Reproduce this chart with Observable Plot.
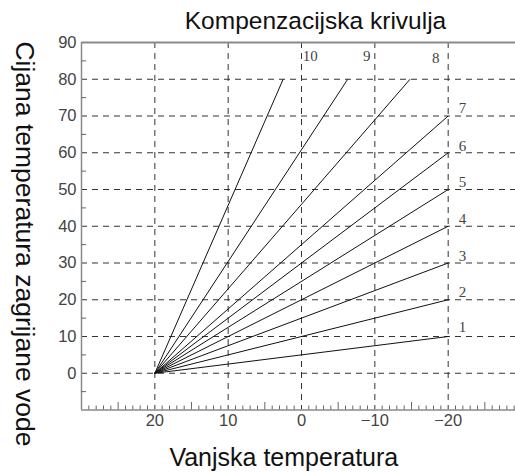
<!DOCTYPE html>
<html>
<head>
<meta charset="utf-8">
<script src="https://cdn.jsdelivr.net/npm/d3@7"></script>
<script src="https://cdn.jsdelivr.net/npm/@observablehq/plot@0.6"></script>
<style>
html, body { margin: 0; padding: 0; background: #fff; overflow: hidden; }
g[aria-label$="tick label"] { font-size: 16.5px !important; }
</style>
</head>
<body>
<div id="chart"></div>
<script>
// ---- data ----
const titleText = "Kompenzacijska krivulja";
const xLabelText = "Vanjska temperatura";
const yLabelText = "Cijana temperatura zagrijane vode";

const curves     = [1, 2, 3, 4, 5, 6, 7, 8, 9, 10];
const startTemp  = 20;   // all curves start at (20, 0)
const startWater = 0;
const endTemp    = [-20, -20, -20, -20, -20, -20, -20, -14.8, -6.3, 2.5];
const endWater   = [10, 20, 30, 40, 50, 60, 70, 80, 80, 80];
const labelTemp  = [-21.95, -21.95, -21.95, -21.95, -21.95, -21.95, -21.95, -18.3, -8.9, -1.2];
const labelWater = [12.6, 22.1, 31.9, 41.9, 51.9, 61.7, 72.0, 85.8, 86.3, 86.4];

const xTicks   = [20, 10, 0, -10, -20];
const yTicks   = [0, 10, 20, 30, 40, 50, 60, 70, 80, 90];
const yGrid    = [0, 10, 20, 30, 40, 50, 60, 70, 80];
const yMinor   = [-5, 5, 15, 25, 35, 45, 55, 65, 75, 85];
const xMid     = [25, 15, 5, -5, -15, -25];
const xMinor   = d3.range(29, -30, -1).filter(v => v % 5 !== 0);

const xDomain = [30, -29.18];
const yDomain = [-10, 90];

// ---- tables ----
const curveRows = curves.map((c, i) => ({
  curve: c, x1: startTemp, y1: startWater, x2: endTemp[i], y2: endWater[i]
}));
const labelRows = curves.map((c, i) => ({ curve: c, x: labelTemp[i], y: labelWater[i] }));

const W = 515, H = 472;
const mL = 81, mR = 0, mT = 42, mB = 62.5;
const frameW = W - mL - mR, frameH = H - mT - mB;

const grid = "#333";
const axisGray = "#8a8a8a";

const chart = Plot.plot({
  width: W,
  height: H,
  marginLeft: mL,
  marginRight: mR,
  marginTop: mT,
  marginBottom: mB,
  style: { fontFamily: "'Liberation Sans', Arial, sans-serif", fontSize: "14px", color: "#333", background: "#fff" },
  x: { domain: xDomain },
  y: { domain: yDomain },
  marks: [
    // dashed grid
    Plot.ruleY(yGrid, { stroke: grid, strokeWidth: 1, strokeDasharray: "6,5" }),
    Plot.ruleX(xTicks, { stroke: grid, strokeWidth: 1, strokeDasharray: "6,5" }),
    // frame lines
    Plot.ruleX([xDomain[0]], { stroke: axisGray, strokeWidth: 1.5 }),
    Plot.ruleY([yDomain[1]], { stroke: axisGray, strokeWidth: 2 }),
    Plot.ruleY([yDomain[0]], { stroke: axisGray, strokeWidth: 1.5 }),
    // minor ticks
    Plot.tickY(yMinor, { stroke: "#666", strokeWidth: 1, insetRight: frameW - 5 }),
    Plot.tickX(xMinor, { stroke: "#666", strokeWidth: 1, insetTop: frameH - 4 }),
    Plot.tickX(xMid, { stroke: "#666", strokeWidth: 1, insetTop: frameH - 7.5 }),
    // curves
    Plot.link(curveRows, { x1: "x1", y1: "y1", x2: "x2", y2: "y2", stroke: "#111", strokeWidth: 1 }),
    // curve labels
    Plot.text(labelRows, {
      x: "x", y: "y", text: d => String(d.curve),
      fontFamily: "'Liberation Serif', 'Times New Roman', serif", fontSize: 15, fill: "#444"
    }),
    // axes
    Plot.axisX(xTicks, { tickSize: 0, tickPadding: 4, label: null, fontSize: 16.5, fill: "#444" }),
    Plot.axisY(yTicks, { tickSize: 0, tickPadding: 5, label: null, fontSize: 16.5, fill: "#444" }),
    // titles
    Plot.text([titleText], { frameAnchor: "top", lineAnchor: "middle", textAnchor: "middle", text: d => d, dx: 17, dy: -21, fontSize: 24.5, fill: "#111" }),
    Plot.text([xLabelText], { frameAnchor: "bottom", lineAnchor: "middle", textAnchor: "middle", text: d => d, dx: -14.7, dy: 47.5, fontSize: 25, fill: "#111" }),
    Plot.text([yLabelText], { frameAnchor: "left", lineAnchor: "middle", textAnchor: "middle", text: d => d, rotate: 90, dx: -57, dy: 17.75, fontSize: 26.5, fill: "#111" })
  ]
});

document.getElementById("chart").appendChild(chart);
</script>
</body>
</html>
